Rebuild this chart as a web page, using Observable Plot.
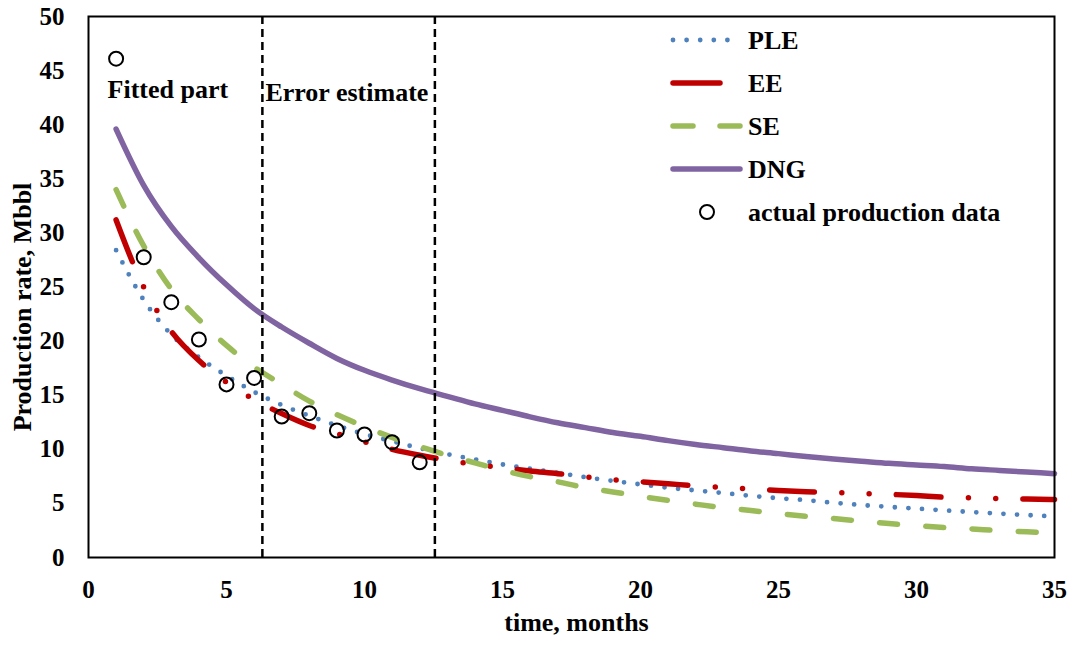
<!DOCTYPE html>
<html>
<head>
<meta charset="utf-8">
<script src="https://cdn.jsdelivr.net/npm/d3@7"></script>
<script src="https://cdn.jsdelivr.net/npm/@observablehq/plot@0.6"></script>
<style>
  body { margin: 0; background: #fff; }
  #wrap { position: relative; width: 1074px; height: 648px; background: #fff; }
  #wrap svg { display: block; }
  #legend { position: absolute; left: 0; top: 0; pointer-events: none; }
</style>
</head>
<body>
<div id="wrap"></div>
<script>
// ---- data ----
const months = [1,2,3,4,5,6,7,8,9,10,11,12,13,14,15,16,17,18,19,20,21,22,23,24,25,26,27,28,29,30,31,32,33,34,35];
const ple = [28.4,23.8,20.6,18.5,16.8,15.3,14.1,13.1,12.2,11.4,10.75,10.1,9.55,9.07,8.6,8.2,7.82,7.42,7.08,6.76,6.45,6.2,5.96,5.7,5.48,5.3,5.06,4.85,4.68,4.52,4.36,4.2,4.06,3.92,3.8];
const ee  = [31.2,25.0,20.9,18.2,16.2,14.6,13.3,12.2,11.45,10.7,10.0,9.45,9.0,8.6,8.3,8.0,7.75,7.45,7.2,7.0,6.82,6.62,6.48,6.34,6.2,6.08,6.0,5.92,5.84,5.72,5.58,5.51,5.45,5.41,5.36];
const se  = [34.0,28.8,24.8,22.0,19.6,17.6,16.0,14.45,13.2,12.1,11.1,10.25,9.45,8.75,8.05,7.47,7.0,6.45,6.06,5.65,5.28,4.93,4.6,4.34,4.06,3.81,3.6,3.36,3.14,2.94,2.77,2.64,2.48,2.38,2.26];
const dng = [39.6,34.4,30.6,27.7,25.2,23.0,21.3,19.8,18.4,17.3,16.4,15.6,14.9,14.2,13.6,13.0,12.45,12.0,11.55,11.2,10.8,10.45,10.15,9.85,9.6,9.33,9.1,8.9,8.7,8.55,8.4,8.2,8.05,7.9,7.75];

const actualMonths = [1,2,3,4,5,6,7,8,9,10,11,12];
const actual = [46.1,27.75,23.6,20.15,16.0,16.6,13.03,13.34,11.74,11.37,10.66,8.8];

const boundaries = [6.3, 12.55];
const annotLabels = ["Fitted part", "Error estimate"];
const annotX = [0.69, 6.41];
const annotY = [43.25, 42.95];

const xTicks = [0,5,10,15,20,25,30,35];
const yTicks = [0,5,10,15,20,25,30,35,40,45,50];
const xTitle = "time, months";
const yTitle = "Production rate, Mbbl";

const seriesNames = ["PLE", "EE", "SE", "DNG"];
const actualName = "actual production data";

// ---- styles ----
const FONT = "'Liberation Serif', 'Times New Roman', serif";
const styles = {
  PLE: {stroke: "#4F81BD", strokeWidth: 4.8, strokeDasharray: "0 13.6"},
  EE:  {stroke: "#C00000", strokeWidth: 5.5, strokeDasharray: "44.7 27.5 0 27.3 0 27.2"},
  SE:  {stroke: "#9BBB59", strokeWidth: 5.5, strokeDasharray: "18 28.3"},
  DNG: {stroke: "#8064A2", strokeWidth: 5.5, strokeDasharray: null}
};

const rows = months.map((m, i) => ({month: m, PLE: ple[i], EE: ee[i], SE: se[i], DNG: dng[i]}));
const actualRows = actualMonths.map((m, i) => ({month: m, value: actual[i]}));
const annots = annotLabels.map((t, i) => ({text: t, x: annotX[i], y: annotY[i]}));

const lineMarks = seriesNames.map(name => Plot.line(rows, {
  x: "month", y: name, curve: "monotone-x",
  stroke: styles[name].stroke, strokeWidth: styles[name].strokeWidth,
  strokeDasharray: styles[name].strokeDasharray || undefined,
  strokeLinecap: "round", strokeLinejoin: "round"
}));

const chart = Plot.plot({
  width: 1074, height: 648,
  marginLeft: 88, marginRight: 20, marginTop: 16, marginBottom: 91,
  x: {domain: [0, 35]},
  y: {domain: [0, 50]},
  style: {fontFamily: FONT, fontWeight: "bold", fontSize: "25px", color: "black", background: "white"},
  marks: [
    Plot.axisX(xTicks, {tickSize: 0, tickPadding: 23, fontSize: 25, fontWeight: "bold", label: null}),
    Plot.axisY(yTicks, {tickSize: 0, tickPadding: 24, fontSize: 25, fontWeight: "bold", label: null}),
    ...lineMarks,
    Plot.dot(actualRows, {x: "month", y: "value", r: 7, stroke: "black", strokeWidth: 2, fill: "none"}),
    Plot.ruleX(boundaries, {stroke: "black", strokeWidth: 2.5, strokeDasharray: "8 5"}),
    Plot.text(annots, {x: "x", y: "y", text: "text", textAnchor: "start", fontSize: 26, fontWeight: "bold", fill: "black"}),
    Plot.text([yTitle], {text: d => d, frameAnchor: "left", textAnchor: "middle", rotate: -90, dx: -66, dy: 20, fontSize: 26, fontWeight: "bold", fill: "black"}),
    Plot.text([xTitle], {text: d => d, frameAnchor: "bottom", textAnchor: "middle", dx: 5, dy: 73, fontSize: 26, fontWeight: "bold", fill: "black"}),
    Plot.frame({stroke: "black", strokeWidth: 2})
  ]
});

const wrap = document.getElementById("wrap");
wrap.appendChild(chart);

// ---- legend (overlay) ----
const leg = d3.select(wrap).append("svg")
  .attr("id", "legend").attr("width", 1074).attr("height", 648);
const legY = [40, 83, 126, 169, 212];
const samples = {
  PLE: [673, 728], EE: [673, 720], SE: [673, 740], DNG: [673, 740]
};
seriesNames.forEach((name, i) => {
  const s = styles[name];
  leg.append("line")
    .attr("x1", samples[name][0]).attr("x2", samples[name][1])
    .attr("y1", legY[i]).attr("y2", legY[i])
    .attr("stroke", s.stroke).attr("stroke-width", s.strokeWidth)
    .attr("stroke-linecap", "round")
    .attr("stroke-dasharray", name === "SE" ? "20 27" : (name === "PLE" ? s.strokeDasharray : null));
  leg.append("text")
    .attr("x", 748).attr("y", legY[i]).attr("dy", "0.35em")
    .attr("font-family", FONT).attr("font-weight", "bold").attr("font-size", 26)
    .text(name);
});
leg.append("circle").attr("cx", 707).attr("cy", legY[4]).attr("r", 7)
  .attr("fill", "none").attr("stroke", "black").attr("stroke-width", 2);
leg.append("text")
  .attr("x", 748).attr("y", legY[4]).attr("dy", "0.35em")
  .attr("font-family", FONT).attr("font-weight", "bold").attr("font-size", 26)
  .text(actualName);
</script>
</body>
</html>
